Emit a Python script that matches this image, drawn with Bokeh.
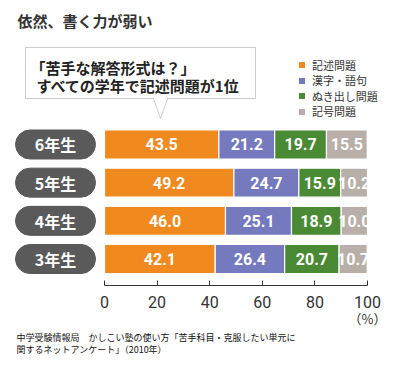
from bokeh.plotting import figure
from bokeh.models import (Range1d, LinearAxis, FixedTicker, Label, Legend, LegendItem,
                          ColumnDataSource, PolyAnnotation)
from bokeh.core.properties import value
from bokeh.embed import file_html
from bokeh.resources import INLINE

# ---- data ----
grades = ["3年生", "4年生", "5年生", "6年生"]
series = ["記述問題", "漢字・語句", "ぬき出し問題", "記号問題"]
kijutsu = [42.1, 46.0, 49.2, 43.5]
kanji = [26.4, 25.1, 24.7, 21.2]
nukidashi = [20.7, 18.9, 15.9, 19.7]
kigou = [10.7, 10.0, 10.2, 15.5]
ticks = [0, 20, 40, 60, 80, 100]
title_text = "依然、書く力が弱い"
bubble_lines = ["「苦手な解答形式は？」", "すべての学年で記述問題が1位"]
footer_lines = ["中学受験情報局　かしこい塾の使い方「苦手科目・克服したい単元に",
                "関するネットアンケート」（2010年）"]

colors = ["#F08A1E", "#7579BE", "#4A8A35", "#B8AFA8"]
PILL = "#5A5A5A"
TXT = "#333333"
CJK = "Noto Sans CJK JP"
NUM = "Roboto"

# ---- page pixel -> data helpers (layout only) ----
PX0, PPU = 104.0, 2.63
ROW0, PITCH = 258.5, 38.17
def X(px):
    return (px - PX0) / PPU
def Y(py):
    return (ROW0 - py) / PITCH

W, H = 400, 368
p = figure(width=W, height=H, output_backend="svg", toolbar_location=None,
           x_range=Range1d(X(0), X(W)), y_range=Range1d(Y(H), Y(0)),
           x_axis_location=None, y_axis_location=None,
           min_border_left=0, min_border_right=0, min_border_top=0,
           min_border_bottom=0)
p.outline_line_color = None
p.grid.visible = False
p.background_fill_color = "white"
p.border_fill_color = "white"

rows = list(range(len(grades)))
keys = ["s0", "s1", "s2", "s3"]
vals = [kijutsu, kanji, nukidashi, kigou]
src = ColumnDataSource(dict(y=rows, s0=kijutsu, s1=kanji, s2=nukidashi, s3=kigou))
BAR_H = 29 / PITCH
rends = p.hbar_stack(keys, y="y", height=BAR_H, color=colors, source=src,
                     line_color="white", line_width=1.2)

# value labels
lx, ly, lt = [], [], []
for i in rows:
    acc = 0.0
    for s in vals:
        v = s[i]
        lx.append(acc + v / 2)
        ly.append(i)
        lt.append(f"{v:.1f}")
        acc += v
p.text(x=lx, y=ly, text=lt, text_align="center", text_baseline="middle",
       text_color="white", text_font=value(NUM), text_font_style="bold",
       text_font_size="16px")

# category pills
p.hbar(y=rows, left=X(15), right=X(95), height=BAR_H, color=PILL, border_radius=15)
p.text(x=X(55), y=rows, text=grades, text_align="center", text_baseline="middle",
       text_color="white", text_font=value(CJK), text_font_style="bold",
       text_font_size="16px")

# axis (drawn inside the frame at a fixed location)
ax = LinearAxis(ticker=FixedTicker(ticks=ticks), bounds=(0, 100), fixed_location=Y(285))
ax.axis_line_color = TXT
ax.major_tick_line_color = TXT
ax.major_tick_in = 5
ax.major_tick_out = 0
ax.minor_tick_line_color = None
ax.major_label_text_font = NUM
ax.major_label_text_font_size = "16px"
ax.major_label_text_color = TXT
ax.major_label_standoff = 10
p.add_layout(ax, "below")

p.add_layout(Label(x=100, y=Y(318), text="（%）", text_align="center",
                   text_baseline="middle", text_font=CJK, text_font_size="13px",
                   text_color=TXT))

# title
p.add_layout(Label(x=X(17), y=Y(20), text=title_text, text_baseline="middle",
                   text_font=CJK, text_font_style="bold", text_font_size="15px",
                   text_color=TXT))

# speech bubble
bx = [25, 255, 255, 167, 160, 153, 25]
by = [47, 47, 98, 98, 118, 98, 98]
p.add_layout(PolyAnnotation(xs=[X(v) for v in bx], ys=[Y(v) for v in by],
                            fill_color="white", fill_alpha=1, line_color="#555555",
                            line_width=1))
p.add_layout(Label(x=X(30), y=Y(67), text=bubble_lines[0], text_baseline="middle",
                   text_font=CJK, text_font_style="bold", text_font_size="15px",
                   text_color="#222222"))
p.add_layout(Label(x=X(36), y=Y(85), text=bubble_lines[1], text_baseline="middle",
                   text_font=CJK, text_font_style="bold", text_font_size="15px",
                   text_color="#222222"))

# legend: one single-item legend per series so rows can sit closely
legend_centers = [63.5, 79, 94.5, 110]
for k in range(4):
    lg = Legend(items=[LegendItem(label=series[k], renderers=[rends[k]])],
                location=(297, H - legend_centers[k] - 9), orientation="vertical",
                glyph_width=9, glyph_height=9, label_height=12, spacing=0,
                label_standoff=6, padding=0, margin=0,
                label_text_font=CJK, label_text_font_size="11px",
                label_text_color=TXT, background_fill_alpha=0,
                border_line_color=None)
    p.add_layout(lg, "center")

# footer
for t, py in zip(footer_lines, [337, 349]):
    p.add_layout(Label(x=X(16), y=Y(py), text=t, text_baseline="middle",
                       text_font=CJK, text_font_size="9px", text_color="#111111"))

open("out.html", "w").write(file_html(p, INLINE))
